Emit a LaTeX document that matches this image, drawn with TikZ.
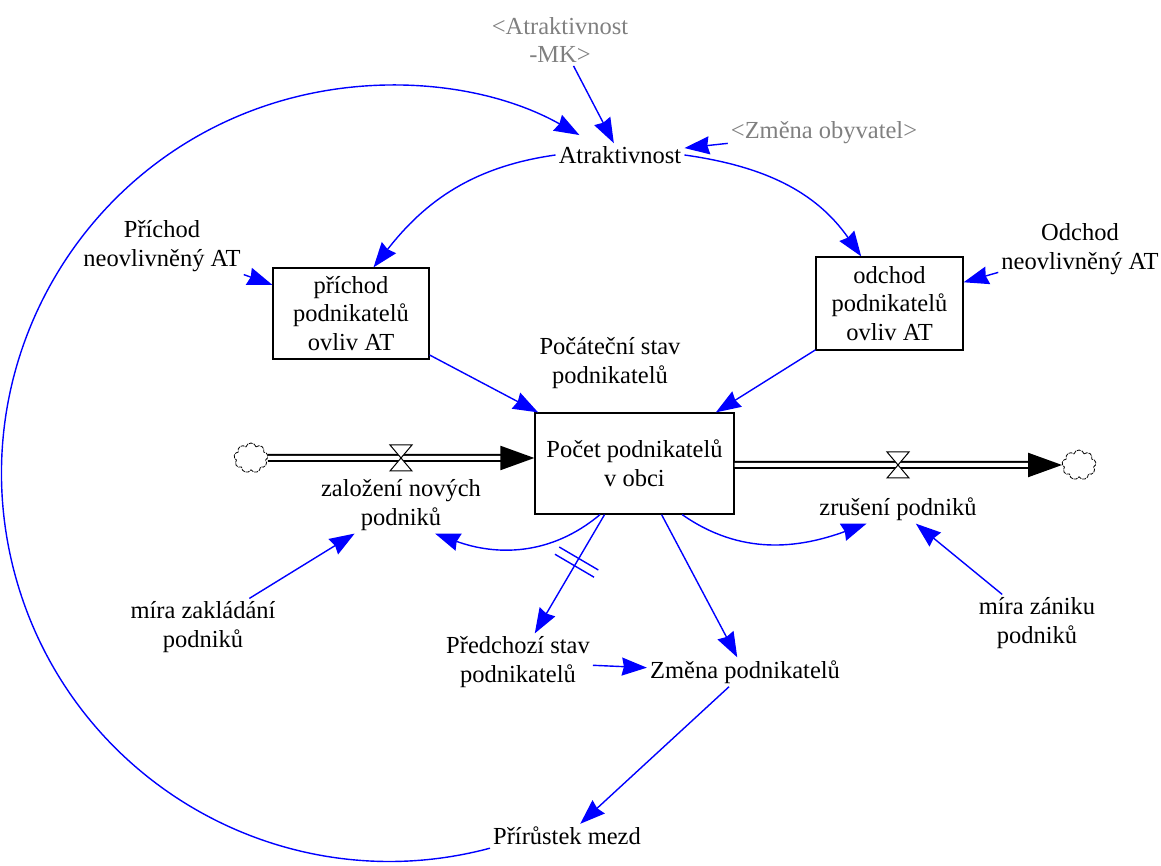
\documentclass[tikz,border=0pt]{standalone}
\usepackage{fontspec}
\setmainfont{Liberation Serif}
\definecolor{linkblue}{RGB}{0, 0, 255}
\definecolor{shadowgray}{RGB}{128, 128, 128}
\usepackage{tikz}
\usetikzlibrary{shapes, shapes.symbols, arrows.meta, positioning, calc}

\begin{document}
\begin{tikzpicture}[x=1pt, y=1pt,
  every node/.style={font=\fontsize{24.5}{28.5}\selectfont},
  lbl/.style={align=center, inner sep=3pt},
  shadow/.style={lbl, text=shadowgray},
  aux/.style={draw, line width=1.2pt, align=center, minimum width=156pt, minimum height=91pt, inner sep=2pt},
  stockbox/.style={draw, line width=1.2pt, align=center, minimum width=199pt, minimum height=101pt},
  cloudy/.style={shape=cloud, cloud puffs=9, aspect=1.15, draw, line width=0.8pt, dash pattern=on 4pt off 1pt, minimum width=34pt, minimum height=30pt, inner sep=0pt},
  pipe/.style={draw=black, line width=2pt, double=white, double distance=4pt, -{Triangle[length=34pt, width=24pt]}},
  valve/.style={draw=black, fill=white, line width=1pt, line join=miter},
  link/.style={draw=linkblue, line width=1.4pt, -{Stealth[length=25pt, width=18pt, inset=2pt]}},
  dly/.style={sloped, draw=none, minimum width=7pt, minimum height=44pt, inner sep=0pt},
  delaymark/.style={draw=linkblue, line width=1.4pt}]
  \useasboundingbox (0,0) rectangle (1161,866);

  \node[shadow] (atrmk) at (560,826) {<Atraktivnost\\-MK>};
  \node[lbl] (atr) at (620,711) {Atraktivnost};
  \node[shadow] (zmob) at (824,733) {<Změna obyvatel>};
  \node[lbl] (prichN) at (162,620) {Příchod\\neovlivněný AT};
  \node[lbl] (odchN) at (1080,617) {Odchod\\neovlivněný AT};
  \node[aux] (pb) at (351,552.5) {příchod\\podnikatelů\\ovliv AT};
  \node[aux, minimum width=147pt, minimum height=93pt] (ob) at (889.5,562.5) {odchod\\podnikatelů\\ovliv AT};
  \node[lbl] (pocstav) at (610,503) {Počáteční stav\\podnikatelů};
  \node[stockbox] (stock) at (634.5,402.5) {Počet podnikatelů\\v obci};
  \node[cloudy] (cl) at (251,408) {};
  \node[cloudy] (cr) at (1079,401) {};
  \node[lbl] (zal) at (401,361) {založení nových\\podniků};
  \node[lbl] (zrus) at (898,357) {zrušení podniků};
  \node[lbl] (mirazak) at (203,239) {míra zakládání\\podniků};
  \node[lbl] (mirazan) at (1037,243) {míra zániku\\podniků};
  \node[lbl] (pred) at (518,204) {Předchozí stav\\podnikatelů};
  \node[lbl] (zmena) at (745,194) {Změna podnikatelů};
  \node[lbl] (prir) at (567,30) {Přírůstek mezd};

  % flows
  \draw[pipe] (cl.east) -- (stock.west |- cl);
  \draw[pipe] (stock.east |- cr) -- (cr.west);
  \coordinate (vzal) at (401,408);
  \coordinate (vzrus) at (898,401);
  \foreach \v in {vzal, vzrus}
    \draw[valve] (\v) +(-11,13) -- +(11,13) -- +(-11,-13) -- +(11,-13) -- cycle;

  % links
  \draw[link] (atrmk) -- (atr);
  \draw[link] (zmob) -- (atr);
  \draw[link] (prir.south west) arc[start angle=-75, end angle=-299.3, radius=388pt];
  \draw[link] (atr.west) to[out=188, in=52] (pb.64);
  \draw[link] (atr.east) to[out=-8, in=125] (ob.121);
  \draw[link] (prichN.south east) -- (pb.160);
  \draw[link] (odchN) -- (ob);
  \draw[link] (pb) -- (stock);
  \draw[link] (ob) -- (stock);
  \draw[link] (stock.236) to[out=-140, in=-20] (zal.-40);
  \draw[link] (stock.-47) to[out=-35, in=200] (zrus.-155);
  \draw[link] (mirazak) -- (zal);
  \draw[link] (mirazan) -- (zrus);
  \draw[link] (stock) -- node[dly, pos=0.4] (dl) {} (pred);
  \draw[delaymark] (dl.north west) -- (dl.south west) (dl.north east) -- (dl.south east);
  \draw[link] (stock) -- (zmena);
  \draw[link] (pred) -- (zmena);
  \draw[link] (zmena) -- (prir);
\end{tikzpicture}
\end{document}
